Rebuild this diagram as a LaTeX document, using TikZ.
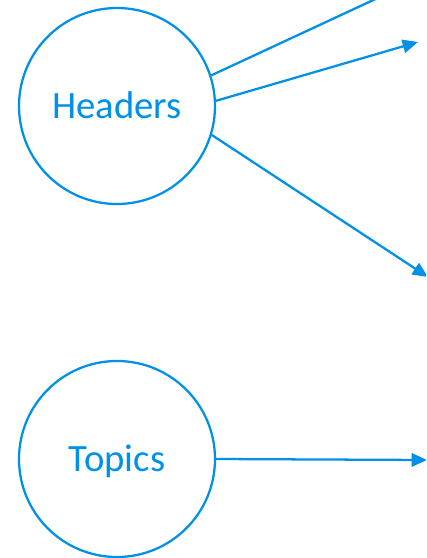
\documentclass[tikz,border=0pt]{standalone}
\usepackage{fontspec}
\setmainfont{Carlito}
\usetikzlibrary{arrows.meta}
\definecolor{flowblue}{RGB}{0,145,230}
\tikzset{
  bubble/.style={circle,draw=flowblue,line width=1.7pt,minimum size=147pt,inner sep=0pt,
    text=flowblue,font=\fontsize{29}{34}\selectfont,text height=18.5pt,text depth=0pt},
  flow/.style={draw=flowblue,line width=1.7pt,-{Triangle[length=11.5pt,width=10pt]}}
}
\begin{document}
\begin{tikzpicture}[x=0.75pt,y=-0.75pt]
\useasboundingbox (0,0) rectangle (426,558);
\clip (0,0) rectangle (426,558);
\node[bubble] (headers) at (117,106) {Headers};
\node[bubble] (topics) at (117,459) {Topics};
% free ends of the arrows
\coordinate (up) at (440,-31);
\coordinate (right) at (418,42);
\coordinate (down) at (428,277);
\coordinate (out) at (427,460);
\draw[flow] (headers.18)--(up);
\draw[flow] (headers.3.5)--(right);
\draw[flow] (headers.-17)--(down);
\draw[flow] (topics.east)--(out);
\end{tikzpicture}
\end{document}
